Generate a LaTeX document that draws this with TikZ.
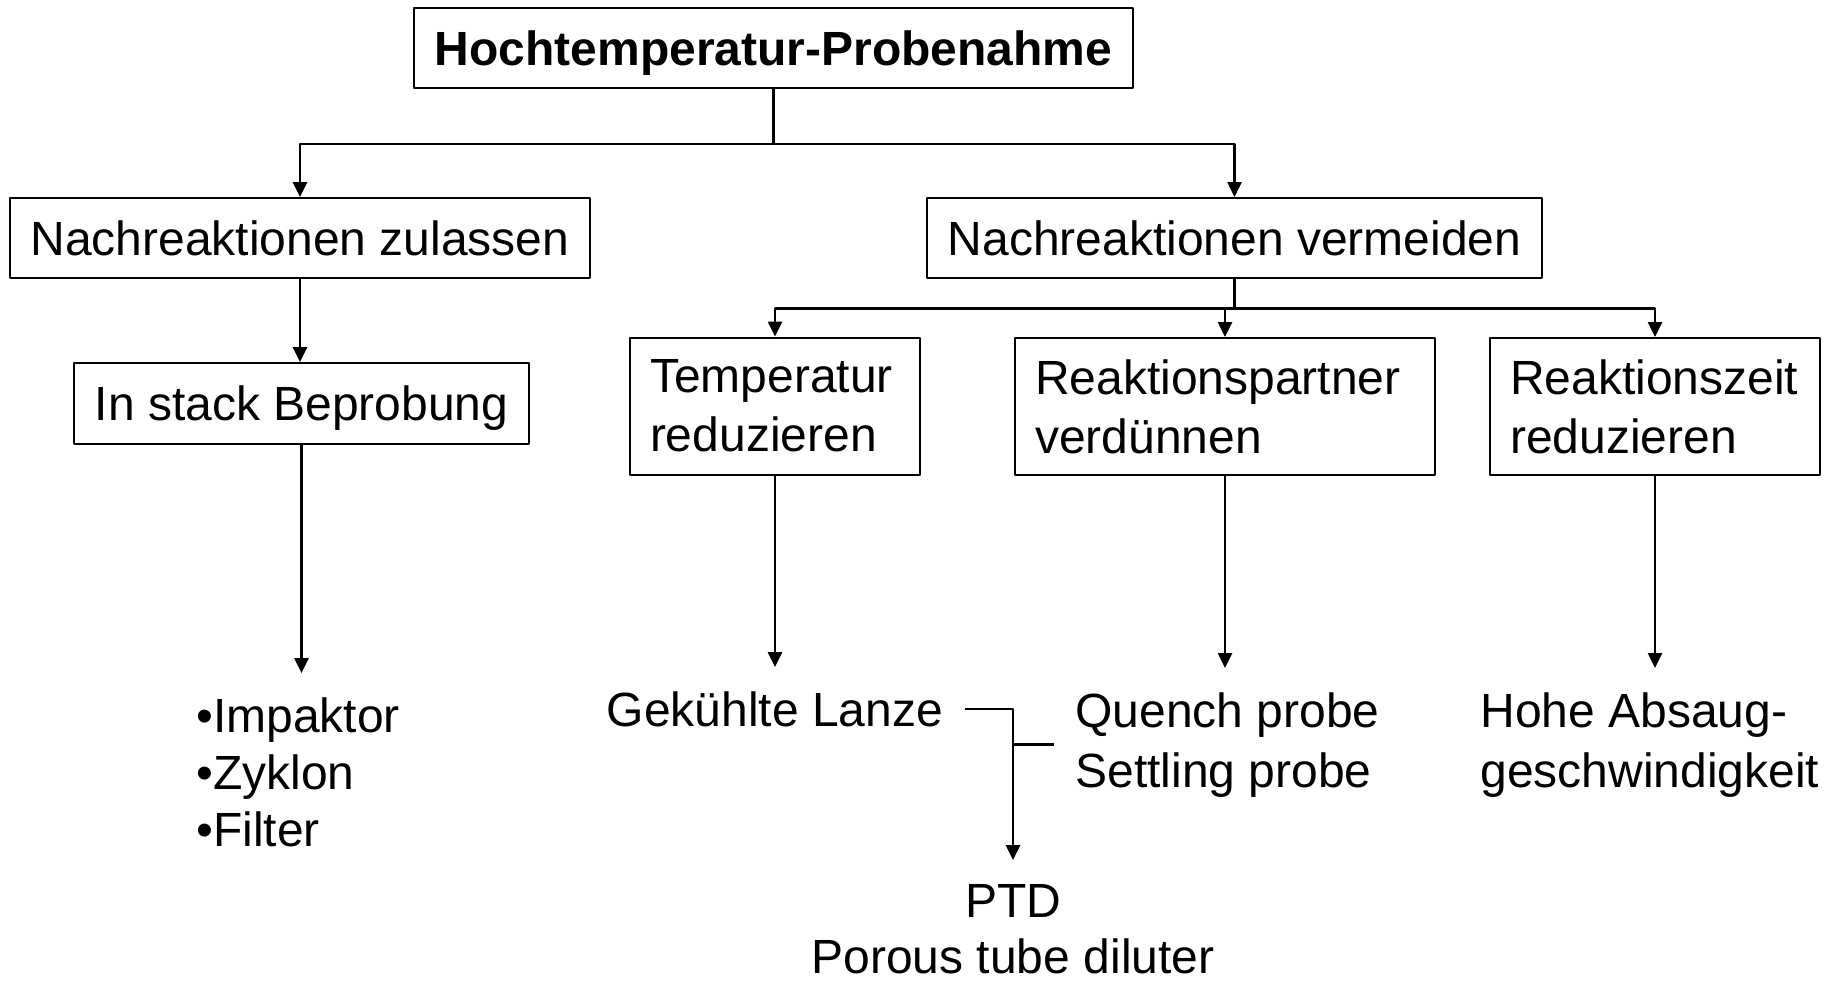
\documentclass[tikz,border=0pt]{standalone}
\usepackage{fontspec}
\setmainfont{Liberation Sans}
\usetikzlibrary{arrows.meta,positioning}
\begin{document}
\begin{tikzpicture}[x=0.5pt, y=-0.5pt, line join=round, >={Triangle[length=7.5pt,width=7pt]},
		font=\fontsize{24}{29}\selectfont,
		box/.style={draw, line width=1pt, inner sep=0pt, text depth=0pt, minimum height=40pt},
		bigbox/.style={draw, line width=1pt, inner xsep=10pt, inner ysep=0pt, align=left, minimum height=68.5pt},
		txt/.style={inner xsep=10.5pt, inner ysep=12pt, align=left},
		con/.style={line width=1.3pt}]
		\useasboundingbox (0,0) rectangle (1835,982);
		% Kaesten
		\node[box, minimum width=359.5pt, font=\fontsize{24}{29}\selectfont\bfseries] (top) at (773.5,48) {Hochtemperatur-Probenahme};
		\node[box, minimum width=290pt] (zul) at (300,238) {Nachreaktionen zulassen};
		\node[box, minimum width=307.5pt] (verm) at (1234.5,238) {Nachreaktionen vermeiden};
		\node[box, minimum width=227.5pt, minimum height=40.5pt] (stack) at (301.5,403.5) {In stack Beprobung};
		\node[bigbox, text width=125pt, font=\fontsize{24}{29.5}\selectfont] (temp) at (775,406) {Temperatur\\reduzieren};
		\node[bigbox, text width=190pt, font=\fontsize{24}{29.5}\selectfont] (partner) at (1225,406.5) {Reaktionspartner\\verdünnen};
		\node[bigbox, text width=145pt, font=\fontsize{24}{29.5}\selectfont] (zeit) at (1655,406.5) {Reaktionszeit\\reduzieren};
		% Texte unten
		\node[txt, anchor=north west, font=\fontsize{24}{28.5}\selectfont] (list) at (175,673) {\textbullet Impaktor\\\textbullet Zyklon\\\textbullet Filter};
		\node[txt, anchor=north] (lanze) at (775,667) {Gekühlte Lanze};
		\node[txt, anchor=north west, font=\fontsize{24}{30}\selectfont] (quench) at (1054,668) {Quench probe\\Settling probe};
		\node[txt, anchor=north west, font=\fontsize{24}{30}\selectfont] (hohe) at (1459,668) {Hohe Absaug-\\geschwindigkeit};
		\node[txt, anchor=north, align=center, font=\fontsize{24}{28}\selectfont] (ptd) at (1013,860) {PTD\\Porous tube diluter};
		% Verbindungen
		\draw[con,->] (top.south) -- ++(0,55) -| (zul.north);
		\draw[con,->] (top.south) -- ++(0,55) -| (verm.north);
		\draw[con,->] (zul.south) -- (zul.south |- stack.north);
		\draw[con,->] (verm.south) -- ++(0,29.5) -| (temp.north);
		\draw[con,->] (verm.south) -- ++(0,29.5) -| (partner.north);
		\draw[con,->] (verm.south) -- ++(0,29.5) -| (zeit.north);
		\draw[con,->] (stack) -- (stack |- list.north);
		\draw[con,->] (temp) -- (lanze);
		\draw[con,->] (partner) -- (partner |- quench.north);
		\draw[con,->] (zeit) -- (zeit |- hohe.north);
		\draw[con,->] (lanze.east) -| (ptd.north);
		\draw[con] (quench.west) -- (quench.west -| ptd.north);
\end{tikzpicture}
\end{document}
